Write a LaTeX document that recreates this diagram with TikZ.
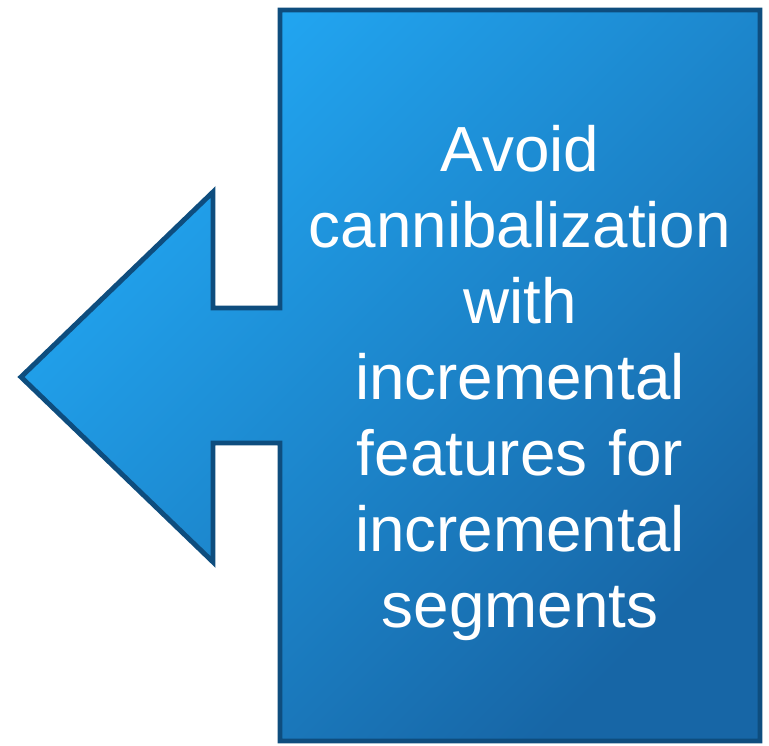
\documentclass[tikz,border=0pt]{standalone}
\usepackage{fontspec}
\setmainfont{Liberation Sans}
\definecolor{arrowlight}{HTML}{22A8F4}
\definecolor{arrowdark}{HTML}{1766A6}
\definecolor{arrowline}{HTML}{0E4D7E}
\begin{document}
\begin{tikzpicture}
	\useasboundingbox (0, 0) rectangle (15.38, 14.92);
	\filldraw[draw=arrowline, line width=2.8pt, line join=miter,
		top color=arrowlight, bottom color=arrowdark, shading angle=45]
		(5.6, 14.72) -- (15.2, 14.72) -- (15.2, 0.1) -- (5.6, 0.1)
		-- (5.6, 6.06) -- (4.26, 6.06) -- (4.26, 3.68) -- (0.42, 7.38)
		-- (4.26, 11.08) -- (4.26, 8.76) -- (5.6, 8.76) -- cycle;
	\node[text=white, align=center, text width=9cm,
		font=\fontsize{36.3}{43.2}\selectfont] (label) at (10.4, 7.26)
		{Avoid\\cannibalization\\with\\incremental\\features for\\incremental\\segments};
\end{tikzpicture}
\end{document}
